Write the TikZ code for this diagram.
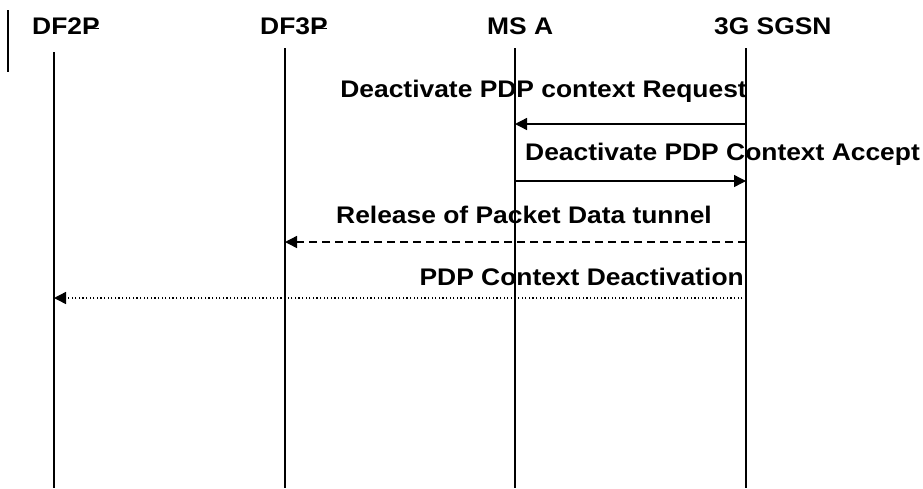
\documentclass[tikz,border=0pt]{standalone}
\usepackage{fontspec}
\setmainfont{Liberation Sans}[FakeStretch=1.1]
\usetikzlibrary{arrows.meta}
\tikzset{
  hdr/.style={font=\bfseries\fontsize{24}{27}\selectfont, inner sep=0pt},
  msg/.style={font=\bfseries\fontsize{24}{27}\selectfont, inner sep=0pt},
  life/.style={line width=1.4pt},
  sig/.style={line width=1.4pt, -{Triangle[length=12pt,width=12pt]}},
  sigdash/.style={sig, dash pattern=on 8pt off 5pt},
  sigdot/.style={sig, dash pattern=on 1.3pt off 2.3pt},
  mark line/.style={line width=0.9pt}
}
\begin{document}
\begin{tikzpicture}[x=1pt,y=-1pt]
\useasboundingbox (0,0) rectangle (923,488);
% headers
\node[hdr, anchor=base west] (h1) at (32,34) {DF2P};
\node[hdr, anchor=base west] (h2) at (260,34) {DF3P};
\node[hdr, anchor=base west] (h3) at (487,34) {MS A};
\node[hdr, anchor=base west] (h4) at (714,34) {3G SGSN};
% small marks across the P's
\coordinate (p1a) at (86,28); \coordinate (p1b) at (99,28);
\coordinate (p2a) at (314,28); \coordinate (p2b) at (327,28);
\draw[mark line] (p1a) -- (p1b);
\draw[mark line] (p2a) -- (p2b);
% left bar
\coordinate (lb1) at (8,10); \coordinate (lb2) at (8,72);
\draw[life] (lb1) -- (lb2);
% lifelines
\coordinate (t1) at (54,52);  \coordinate (b1) at (54,488);
\coordinate (t2) at (285,48); \coordinate (b2) at (285,488);
\coordinate (t3) at (515,48); \coordinate (b3) at (515,488);
\coordinate (t4) at (746,48); \coordinate (b4) at (746,488);
\draw[life] (t1) -- (b1);
\draw[life] (t2) -- (b2);
\draw[life] (t3) -- (b3);
\draw[life] (t4) -- (b4);
% message endpoints
\coordinate (s1) at (746,124); \coordinate (m1) at (515,124);
\coordinate (m2) at (515,181); \coordinate (s2) at (746,181);
\coordinate (s3) at (746,242); \coordinate (d3) at (285,242);
\coordinate (s4) at (746,298); \coordinate (d2) at (54,298);
% labels
\node[msg, anchor=base east] (l1) at (747,97) {Deactivate PDP context Request};
\node[msg, anchor=base west] (l2) at (525,160) {Deactivate PDP Context Accept};
\node[msg, anchor=base west] (l3) at (336,223) {Release of Packet Data tunnel};
\node[msg, anchor=base east] (l4) at (744,285) {PDP Context Deactivation};
% messages
\draw[sig] (s1) -- (m1);
\draw[sig] (m2) -- (s2);
\draw[sigdash] (s3) -- (d3);
\draw[sigdot] (s4) -- (d2);
\end{tikzpicture}
\end{document}
